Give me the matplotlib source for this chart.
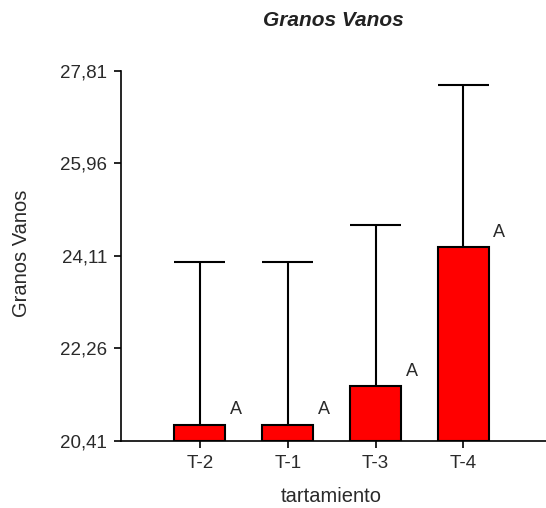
import matplotlib
matplotlib.use("Agg")
import matplotlib.pyplot as plt

categories = ["T-2", "T-1", "T-3", "T-4"]
means = [20.73, 20.73, 21.50, 24.28]
upper = [23.98, 23.98, 24.74, 27.53]
letters = ["A", "A", "A", "A"]
yticks = [20.41, 22.26, 24.11, 25.96, 27.81]
ytick_labels = ["20,41", "22,26", "24,11", "25,96", "27,81"]

plt.rcParams['font.family'] = ['Liberation Sans', 'DejaVu Sans']

fig = plt.figure(figsize=(5.46, 5.08), dpi=100)
ax = fig.add_axes([121/546, 1 - 441/508, 1 - 121/546, 370/508])

base = yticks[0]
bw = 0.58
x = list(range(len(categories)))
heights = [m - base for m in means]
ax.vlines(x, means, upper, color="black", linewidth=1.5, zorder=1)
ax.hlines(upper, [xi - bw/2 for xi in x], [xi + bw/2 for xi in x],
          color="black", linewidth=1.5, zorder=1)
ax.bar(x, heights, bottom=base, width=bw, color="#ff0000",
       edgecolor="black", linewidth=1.5, zorder=2)
for xi, m, l in zip(x, means, letters):
    ax.text(xi + 0.41, m + 0.13, l, fontsize=13, ha="center", va="bottom",
            color="#2a2a2a")

ax.set_xlim(-0.898, 3.94)
ax.set_ylim(base, yticks[-1])
ax.set_xticks(x)
ax.set_xticklabels(categories, fontsize=13.5)
ax.set_yticks(yticks)
ax.set_yticklabels(ytick_labels, fontsize=13.5)
ax.tick_params(axis="both", direction="out", length=5, width=1.2, pad=5,
               colors="black", labelcolor="#2a2a2a")
for s in ["top", "right"]:
    ax.spines[s].set_visible(False)
for s in ["left", "bottom"]:
    ax.spines[s].set_linewidth(1.2)
ax.set_xlabel("tartamiento", fontsize=14.5, color="#2a2a2a")
ax.xaxis.set_label_coords(0.494, -0.124)
ax.set_ylabel("Granos Vanos", fontsize=14.5, color="#2a2a2a")
ax.yaxis.set_label_coords(-0.212, 0.508)
fig.text(333.5/546, 1 - 21/508, "Granos Vanos", fontsize=15, fontweight="bold",
         fontstyle="italic", ha="center", va="center", color="#222222")

fig.savefig("out.png", dpi=100, facecolor="white")
